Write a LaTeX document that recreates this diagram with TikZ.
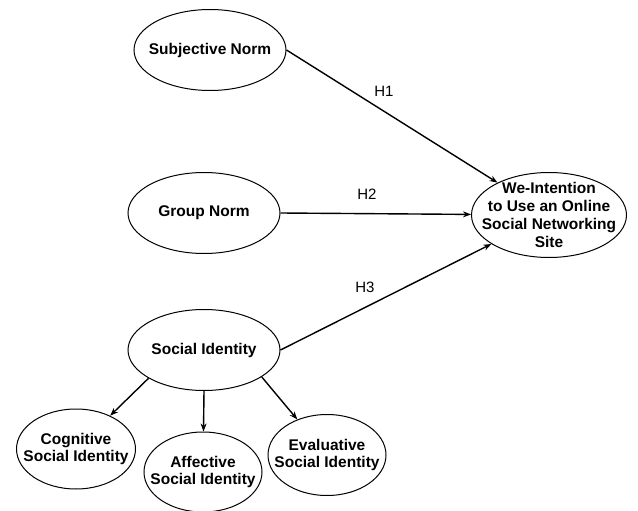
\documentclass[tikz,border=0pt]{standalone}
\usepackage{fontspec}
\setmainfont{Liberation Sans}
\usetikzlibrary{arrows.meta,shapes.geometric}

\begin{document}
\begin{tikzpicture}[x=1pt, y=-1pt,
    ov/.style={ellipse, draw, line width=1pt, inner sep=0pt,
      minimum width=152pt, minimum height=81pt},
    sm/.style={ov, minimum width=119pt, minimum height=80pt},
    txt/.style={align=center, inner sep=0pt,
      font=\fontsize{15.5pt}{17.8pt}\selectfont\bfseries},
    hyp/.style={font=\fontsize{15pt}{17pt}\selectfont},
    fl/.style={-{Stealth[length=8pt, width=6pt]}, line width=1.4pt}]
    \useasboundingbox (0,0) rectangle (638,511);
    % constructs
    \node[ov, label={[txt]center:Subjective Norm}] (sn) at (210,50) {};
    \node[ov, label={[txt]center:Group Norm}] (gn) at (204,213) {};
    \node[ov, label={[txt]center:Social Identity}] (si) at (204,350) {};
    \node[ov, minimum width=155pt, minimum height=85pt,
      label={[txt]center:{We-Intention\\ to Use an Online\\ Social Networking\\ Site}}]
      (we) at (549,215) {};
    % dimensions of social identity
    \node[sm, label={[txt]center:{Cognitive\\ Social Identity}}] (cog) at (76,449) {};
    \node[sm, minimum width=118pt, label={[txt]center:{Affective\\ Social Identity}}]
      (aff) at (203,472) {};
    \node[sm, minimum width=118pt, minimum height=81pt,
      label={[txt]center:{Evaluative\\ Social Identity}}] (eva) at (327,455) {};
    % hypotheses
    \draw[fl] (sn.east) -- (we);
    \draw[fl] (gn.east) -- (we);
    \draw[fl] (si.east) -- (we);
    \node[hyp] (h1) at (384,91) {H1};
    \node[hyp] (h2) at (367,194) {H2};
    \node[hyp] (h3) at (365,287) {H3};
    \draw[fl] (si.207) -- (cog);
    \draw[fl] (si.south) -- (aff);
    \draw[fl] (si.335) -- (eva);
\end{tikzpicture}
\end{document}
